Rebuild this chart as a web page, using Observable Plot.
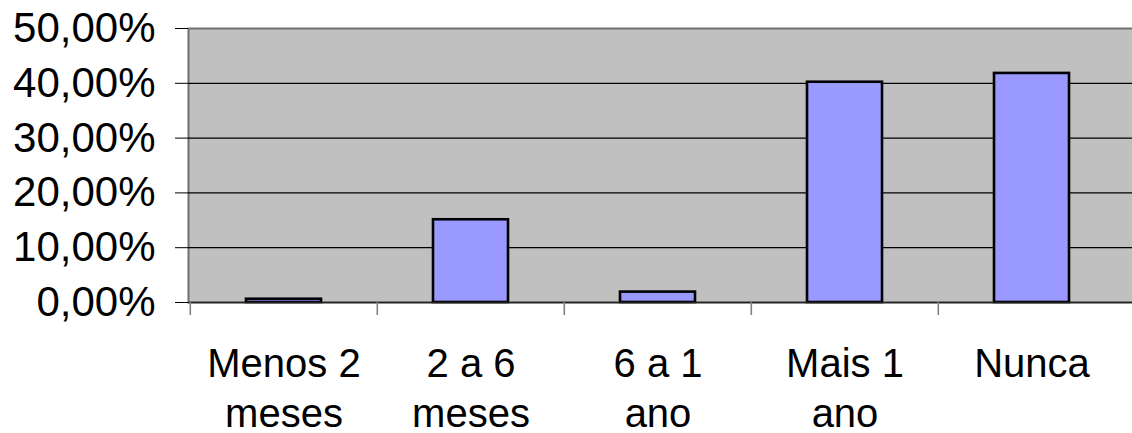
<!DOCTYPE html>
<html>
<head>
<meta charset="utf-8">
<script src="https://cdn.jsdelivr.net/npm/d3@7"></script>
<script src="https://cdn.jsdelivr.net/npm/@observablehq/plot@0.6"></script>
<style>
  html, body { margin: 0; padding: 0; background: #fff; }
  #chart svg { display: block; }
</style>
</head>
<body>
<div id="chart"></div>
<script>
const categories = ["Menos 2\nmeses", "2 a 6\nmeses", "6 a 1\nano", "Mais 1\nano", "Nunca"];
const values = [0.6, 15.1, 1.9, 40.2, 41.8];
const yTicks = [0, 10, 20, 30, 40, 50];
const gridValues = [10, 20, 30, 40];

const data = categories.map((c, i) => ({category: c, value: values[i]}));
const fmt = d => d.toFixed(2).replace(".", ",") + "%";

const chart = Plot.plot({
  width: 1132,
  height: 433,
  marginLeft: 188,
  marginRight: 0,
  marginTop: 28,
  marginBottom: 131,
  style: {fontFamily: "'Liberation Sans', Arial, sans-serif", background: "#fff", color: "#000", overflow: "visible"},
  x: {domain: categories, range: [188.8, 1125.8], padding: 0, axis: null},
  y: {domain: [0, 50], axis: null},
  marks: [
    Plot.frame({fill: "#C0C0C0", stroke: "#707070", strokeWidth: 2, insetRight: -10}),
    Plot.ruleY(gridValues, {stroke: "#000", strokeWidth: 1.2}),
    Plot.barY(data, {x: "category", y: "value", fill: "#9999FF", stroke: "#000", strokeWidth: 2.6, insetLeft: 56, insetRight: 56}),
    Plot.ruleY([0], {stroke: "#222", strokeWidth: 1.5}),
    Plot.axisY({ticks: yTicks, tickSize: 13, tickPadding: 20, tickFormat: fmt, fontSize: 42, stroke: "#000", label: null}),
    Plot.axisX({tickSize: 13, dx: -93.7, tickFormat: () => "", stroke: "#808080", strokeWidth: 1.6, label: null}),
    Plot.axisX({tickSize: 0, tickPadding: 39, fontSize: 40, lineHeight: 1.25, label: null})
  ]
});
document.getElementById("chart").appendChild(chart);
</script>
</body>
</html>
